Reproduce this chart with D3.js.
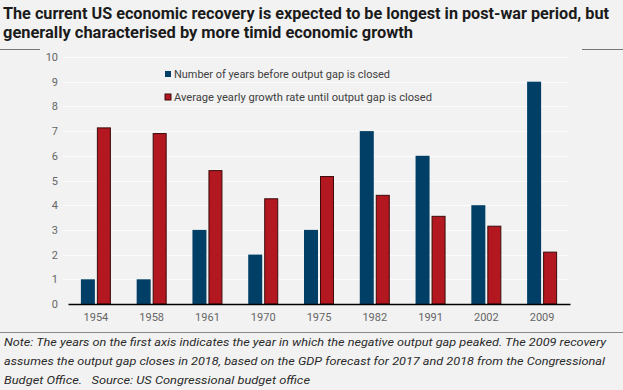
<!DOCTYPE html>
<html>
<head>
<meta charset="utf-8">
<script src="https://cdn.jsdelivr.net/npm/d3@7"></script>
<style>
  body { margin: 0; background: #f2f2f2; }
  svg { display: block; }
</style>
</head>
<body>
<svg id="chart" width="623" height="390"></svg>
<script>
// data
var years = ["1954", "1958", "1961", "1970", "1975", "1982", "1991", "2002", "2009"];
var yearsToClose = [1, 1, 3, 2, 3, 7, 6, 4, 9];
var growthRate = [7.15, 6.92, 5.42, 4.28, 5.18, 4.42, 3.57, 3.17, 2.12];
var seriesNames = ["Number of years before output gap is closed", "Average yearly growth rate until output gap is closed"];
var yTicks = [0, 1, 2, 3, 4, 5, 6, 7, 8, 9, 10];

var titleLines = [
    "The current US economic recovery is expected to be longest in post-war period, but",
    "generally characterised by more timid economic growth"
];
var noteLines = [
    "Note: The years on the first axis indicates the year in which the negative output gap peaked. The 2009 recovery",
    "assumes the output gap closes in 2018, based on the GDP forecast for 2017 and 2018 from the Congressional",
    "Budget Office.   Source: US Congressional budget office"
];

var colors = ["#023f66", "#b3171f"];

// measured widths of the texts in the picture
var titleWidths = [606, 410];
var noteWidths = [602, 601, 306];
var legendWidths = [216, 258];

var svg = d3.select("#chart");

svg.append("rect").attr("width", 623).attr("height", 390).attr("fill", "#f2f2f2");

// title
svg.selectAll("text.title")
    .data(titleLines)
    .enter()
    .append("text")
    .attr("class", "title")
    .attr("x", 3)
    .attr("y", function(d, i){ return 19 + i * 19; })
    .attr("font-family", "Roboto, sans-serif")
    .attr("font-weight", "bold")
    .attr("font-size", 16)
    .attr("fill", "#1b1b1b")
    .attr("textLength", function(d, i){ return titleWidths[i]; })
    .attr("lengthAdjust", "spacingAndGlyphs")
    .text(function(d){ return d; });

// separator lines
svg.append("line").attr("x1", 0).attr("x2", 40).attr("y1", 49.5).attr("y2", 49.5).attr("stroke", "#777");
svg.append("line").attr("x1", 582).attr("x2", 623).attr("y1", 49.5).attr("y2", 49.5).attr("stroke", "#777");
svg.append("line").attr("x1", 0).attr("x2", 623).attr("y1", 332.5).attr("y2", 332.5).attr("stroke", "#888");

// scales
var x = d3.scaleBand()
    .domain(years)
    .range([68, 570])
    .padding(0);
var inner = d3.scaleBand()
    .domain([0, 1])
    .range([x.bandwidth() / 2 - 15, x.bandwidth() / 2 + 15])
    .paddingInner(0.125)
    .paddingOuter(0);
var y = d3.scaleLinear()
    .domain([0, 10])
    .range([304, 57]);

// gridlines
svg.append("g")
    .selectAll("line")
    .data(yTicks.slice(1))
    .enter()
    .append("line")
    .attr("x1", 63)
    .attr("x2", 568)
    .attr("y1", function(d){ return Math.round(y(d)) + 0.5; })
    .attr("y2", function(d){ return Math.round(y(d)) + 0.5; })
    .attr("stroke", "#fcfcfc")
    .attr("stroke-width", 1.2);

// y axis labels
var axisY = d3.axisLeft(y)
    .tickValues(yTicks)
    .tickSize(0)
    .tickPadding(0);
var gy = svg.append("g")
    .attr("transform", "translate(58,0)")
    .call(axisY);
gy.select(".domain").remove();
gy.selectAll("text")
    .attr("font-family", "Roboto, sans-serif")
    .attr("font-size", 11)
    .attr("fill", "#666");

// bars
var groups = svg.selectAll("g.year")
    .data(years)
    .enter()
    .append("g")
    .attr("class", "year")
    .attr("transform", function(d){ return "translate(" + x(d) + ",0)"; });

groups.append("rect")
    .attr("x", inner(0))
    .attr("width", inner.bandwidth())
    .attr("y", function(d, i){ return y(yearsToClose[i]); })
    .attr("height", function(d, i){ return y(0) - y(yearsToClose[i]); })
    .attr("fill", colors[0]);

groups.append("rect")
    .attr("x", inner(1) + 0.5)
    .attr("width", inner.bandwidth() - 1)
    .attr("y", function(d, i){ return y(growthRate[i]) + 0.5; })
    .attr("height", function(d, i){ return y(0) - y(growthRate[i]) - 0.5; })
    .attr("fill", colors[1])
    .attr("stroke", "#3a0b0b")
    .attr("stroke-width", 1);

// x axis
var axisX = d3.axisBottom(x)
    .tickSize(0)
    .tickPadding(9);
var gx = svg.append("g")
    .attr("transform", "translate(0,304)")
    .call(axisX);
gx.select(".domain").attr("stroke", "#000").attr("stroke-width", 1.3);
gx.selectAll("text")
    .attr("font-family", "Roboto, sans-serif")
    .attr("font-size", 11)
    .attr("fill", "#666");

// legend
var legend = svg.selectAll("g.legend")
    .data(seriesNames)
    .enter()
    .append("g")
    .attr("class", "legend")
    .attr("transform", function(d, i){ return "translate(165," + (71 + i * 23) + ")"; });
legend.append("rect")
    .attr("width", 6)
    .attr("height", 6)
    .attr("fill", function(d, i){ return colors[i]; })
    .attr("stroke", function(d, i){ return i ? "#3a0b0b" : "none"; });
legend.append("text")
    .attr("x", 9)
    .attr("y", 7)
    .attr("font-family", "Roboto, sans-serif")
    .attr("font-size", 11)
    .attr("fill", "#404040")
    .attr("textLength", function(d, i){ return legendWidths[i]; })
    .attr("lengthAdjust", "spacingAndGlyphs")
    .text(function(d){ return d; });

// note
svg.selectAll("text.note")
    .data(noteLines)
    .enter()
    .append("text")
    .attr("class", "note")
    .attr("x", 4)
    .attr("y", function(d, i){ return 346 + i * 19; })
    .attr("font-family", "Roboto, sans-serif")
    .attr("font-style", "italic")
    .attr("font-size", 11.5)
    .attr("fill", "#2a2a2a")
    .attr("xml:space", "preserve")
    .style("white-space", "pre")
    .attr("textLength", function(d, i){ return noteWidths[i]; })
    .attr("lengthAdjust", "spacingAndGlyphs")
    .text(function(d){ return d; });
</script>
</body>
</html>
